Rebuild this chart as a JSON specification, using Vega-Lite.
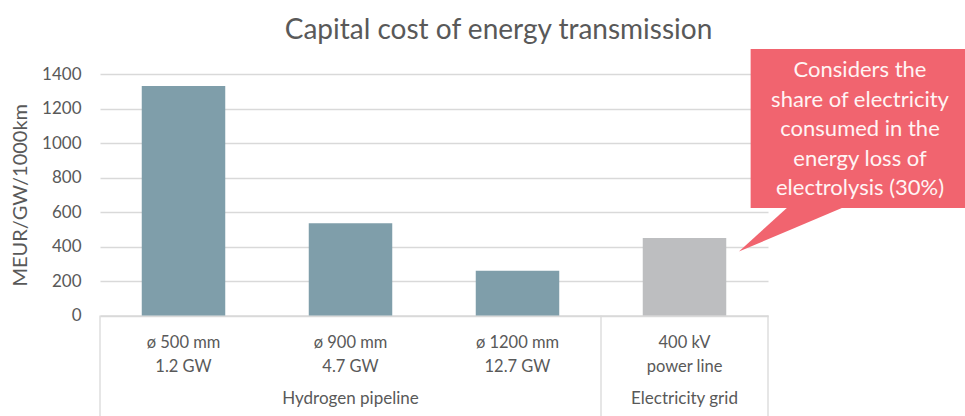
{
  "$schema": "https://vega.github.io/schema/vega-lite/v6.json",
  "width": 668,
  "height": 241.5,
  "autosize": {"type": "none"},
  "padding": {"left": 100, "top": 74, "right": 197, "bottom": 100.5},
  "background": "white",
  "title": {
    "text": "Capital cost of energy transmission",
    "fontSize": 28,
    "fontWeight": "normal",
    "color": "#595959",
    "font": "Lato",
    "anchor": "middle",
    "baseline": "alphabetic",
    "dx": 64.5,
    "dy": 30,
    "offset": 12
  },
  "config": {
    "font": "Lato",
    "view": {"stroke": null},
    "axisY": {
      "titleFontSize": 20,
      "titleColor": "#595959",
      "titleFontWeight": "normal",
      "titleX": -80,
      "titleY": 120.75,
      "titleAngle": -90,
      "titleAlign": "center",
      "titleBaseline": "middle",
      "labelFontSize": 17,
      "labelColor": "#595959",
      "labelPadding": 19,
      "format": "d",
      "ticks": false,
      "tickSize": 0,
      "domain": false,
      "gridColor": "#D9D9D9",
      "gridWidth": 1.3
    }
  },
  "datasets": {
    "bars": [
      {"label": "ø 500 mm\n1.2 GW", "group": "Hydrogen pipeline", "value": 1330},
      {"label": "ø 900 mm\n4.7 GW", "group": "Hydrogen pipeline", "value": 535},
      {"label": "ø 1200 mm\n12.7 GW", "group": "Hydrogen pipeline", "value": 260},
      {"label": "400 kV\npower line", "group": "Electricity grid", "value": 450}
    ],
    "dividers": [
      {"pos": 0, "top": 0, "bottom": -620},
      {"pos": 3, "top": 0, "bottom": -620},
      {"pos": 4, "top": 0, "bottom": -620}
    ],
    "groups": [
      {"group": "Hydrogen pipeline", "pos": 1.5},
      {"group": "Electricity grid", "pos": 3.5}
    ],
    "pointer": [
      {"px": 3.826, "top": 371, "bot": 371},
      {"px": 4.177, "top": 680, "bot": 514.8},
      {"px": 4.58, "top": 680, "bot": 680}
    ],
    "callout": [
      {"note": "Considers the\nshare of electricity\nconsumed in the\nenergy loss of\nelectrolysis (30%)"}
    ]
  },
  "layer": [
    {
      "data": {"name": "bars"},
      "mark": {"type": "bar"},
      "encoding": {
        "x": {
          "field": "label",
          "type": "nominal",
          "sort": null,
          "scale": {"paddingInner": 0.5, "paddingOuter": 0.25},
          "axis": {
            "title": null,
            "labelAngle": 0,
            "labelFontSize": 16.5,
            "labelColor": "#595959",
            "labelLineHeight": 23.5,
            "labelPadding": 19,
            "labelExpr": "split(datum.label, '\\n')",
            "ticks": false,
            "tickSize": 0,
            "domainColor": "#D9D9D9",
            "domainWidth": 1.3,
            "grid": false
          }
        },
        "y": {
          "field": "value",
          "type": "quantitative",
          "scale": {"domain": [0, 1400], "nice": false},
          "axis": {"title": "MEUR/GW/1000km", "values": [0, 200, 400, 600, 800, 1000, 1200, 1400]}
        },
        "color": {
          "field": "group",
          "type": "nominal",
          "scale": {"domain": ["Hydrogen pipeline", "Electricity grid"], "range": ["#7F9EAA", "#BDBEC0"]},
          "legend": null
        }
      }
    },
    {
      "data": {"name": "dividers"},
      "mark": {"type": "rule", "color": "#D9D9D9", "strokeWidth": 1.3},
      "encoding": {
        "x": {"field": "pos", "type": "quantitative", "scale": {"domain": [0, 4], "nice": false, "zero": false}, "axis": null},
        "y": {"field": "top", "type": "quantitative", "scale": {"domain": [0, 1400], "nice": false}, "axis": {"title": "MEUR/GW/1000km", "values": [0, 200, 400, 600, 800, 1000, 1200, 1400]}},
        "y2": {"field": "bottom"}
      }
    },
    {
      "data": {"name": "groups"},
      "mark": {"type": "text", "fontSize": 17, "color": "#595959", "baseline": "alphabetic", "align": "center"},
      "encoding": {
        "x": {"field": "pos", "type": "quantitative", "scale": {"domain": [0, 4], "nice": false, "zero": false}, "axis": null},
        "y": {"datum": -512, "type": "quantitative", "scale": {"domain": [0, 1400], "nice": false}, "axis": {"title": "MEUR/GW/1000km", "values": [0, 200, 400, 600, 800, 1000, 1200, 1400]}},
        "text": {"field": "group"}
      }
    },
    {
      "data": {"name": "pointer"},
      "mark": {"type": "area", "color": "#F1646F", "opacity": 1},
      "encoding": {
        "x": {"field": "px", "type": "quantitative", "scale": {"domain": [0, 4], "nice": false, "zero": false}, "axis": null},
        "y": {"field": "top", "type": "quantitative", "scale": {"domain": [0, 1400], "nice": false}, "axis": {"title": "MEUR/GW/1000km", "values": [0, 200, 400, 600, 800, 1000, 1200, 1400]}},
        "y2": {"field": "bot"}
      }
    },
    {
      "data": {"name": "callout"},
      "mark": {"type": "rect", "color": "#F1646F"},
      "encoding": {
        "x": {"datum": 3.896, "type": "quantitative", "scale": {"domain": [0, 4], "nice": false, "zero": false}, "axis": null},
        "x2": {"datum": 5.3},
        "y": {"datum": 623, "type": "quantitative", "scale": {"domain": [0, 1400], "nice": false}, "axis": {"title": "MEUR/GW/1000km", "values": [0, 200, 400, 600, 800, 1000, 1200, 1400]}},
        "y2": {"datum": 1545}
      }
    },
    {
      "data": {"name": "callout"},
      "mark": {
        "type": "text",
        "lineBreak": "\n",
        "fontSize": 22,
        "lineHeight": 29.5,
        "color": "#FFF4F4",
        "align": "center",
        "baseline": "alphabetic"
      },
      "encoding": {
        "x": {"datum": 4.551, "type": "quantitative", "scale": {"domain": [0, 4], "nice": false, "zero": false}, "axis": null},
        "y": {"datum": 1382.6, "type": "quantitative", "scale": {"domain": [0, 1400], "nice": false}, "axis": {"title": "MEUR/GW/1000km", "values": [0, 200, 400, 600, 800, 1000, 1200, 1400]}},
        "text": {"field": "note"}
      }
    }
  ],
  "resolve": {"scale": {"x": "independent"}}
}
